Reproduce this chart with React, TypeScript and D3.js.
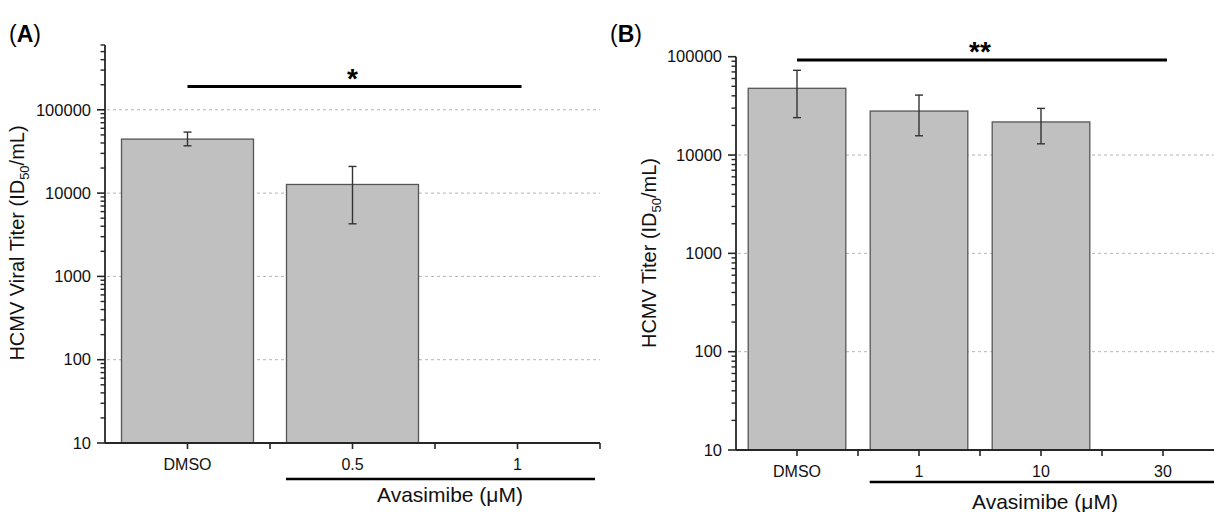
import React from "react"
import * as d3 from "d3"

// panel A data
const catsA = ["DMSO", "0.5", "1"]
const meanA = [44500, 12700, null]
const errHiA = [54000, 20900, null]
const errLoA = [37000, 4280, null]

// panel B data
const catsB = ["DMSO", "1", "10", "30"]
const meanB = [47700, 28000, 21700, null]
const errHiB = [72700, 40700, 29800, null]
const errLoB = [24000, 15700, 13000, null]

const majorTicks = [10, 100, 1000, 10000, 100000]

const font = "'Liberation Sans', Arial, sans-serif"
const axisColor = "#262626"

type PanelProps = {
    label: string
    labelX: number
    cats: string[]
    mean: (number | null)[]
    hi: (number | null)[]
    lo: (number | null)[]
    xRange: [number, number]
    yDomain: [number, number]
    yRange: [number, number]
    yTitle: string
    yTitleX: number
    yTitleY: number
    stars: string
    sigY: number
    treatY: number
    treatLabelX: number
    treatLabelY: number
    treatEnd: number
    gridTop: boolean
}

const Panel = (p: PanelProps) => {
    const x = d3
        .scaleBand()
        .domain(p.cats)
        .range(p.xRange)
        .paddingInner(0.2)
        .paddingOuter(0.1)
    const y = d3.scaleLog().domain(p.yDomain).range(p.yRange)
    const x0 = p.xRange[0]
    const y0 = p.yRange[0]
    const step = x.step()

    // minor log ticks 2..9 in each decade
    const minor: number[] = []
    majorTicks.forEach((m) => {
        for (let k = 2; k <= 9; k++) {
            const v = m * k
            if (v <= p.yDomain[1] * 1.0001) minor.push(v)
        }
    })

    const grid = majorTicks.filter(
        (t) => t > p.yDomain[0] && (p.gridTop || t < p.yDomain[1]),
    )

    const boundaries = p.cats.map((c) => (x(c) as number) - step * 0.1 + step)
    const center = (c: string) => (x(c) as number) + x.bandwidth() / 2
    const last = p.cats[p.cats.length - 1]

    return (
        <g fontFamily={font}>
            <text x={p.labelX} y={42} fontSize={23} fill="#000">
                (<tspan fontWeight="bold">{p.label}</tspan>)
            </text>

            {grid.map((t) => (
                <line
                    key={"g" + t}
                    x1={x0 + 2}
                    x2={p.xRange[1]}
                    y1={y(t)}
                    y2={y(t)}
                    stroke="#b4b4b4"
                    strokeDasharray="3,3"
                    strokeWidth={1}
                />
            ))}

            {p.cats.map((c, i) => {
                const v = p.mean[i]
                if (v == null) return null
                return (
                    <rect
                        key={"b" + c}
                        x={x(c)}
                        y={y(v)}
                        width={x.bandwidth()}
                        height={y0 - y(v)}
                        fill="#c0c0c0"
                        stroke="#555"
                        strokeWidth={1.3}
                    />
                )
            })}

            {p.cats.map((c, i) => {
                const hi = p.hi[i]
                const lo = p.lo[i]
                if (hi == null || lo == null) return null
                const cx = center(c)
                return (
                    <g key={"e" + c} stroke="#333" strokeWidth={1.4}>
                        <line x1={cx} x2={cx} y1={y(hi)} y2={y(lo)} />
                        <line x1={cx - 4} x2={cx + 4} y1={y(hi)} y2={y(hi)} />
                        <line x1={cx - 4} x2={cx + 4} y1={y(lo)} y2={y(lo)} />
                    </g>
                )
            })}

            {/* y axis */}
            <line
                x1={x0}
                x2={x0}
                y1={y0}
                y2={p.yRange[1]}
                stroke={axisColor}
                strokeWidth={1.8}
            />
            {minor.map((v) => (
                <line
                    key={"m" + v}
                    x1={x0 - 4.5}
                    x2={x0}
                    y1={y(v)}
                    y2={y(v)}
                    stroke={axisColor}
                    strokeWidth={1.4}
                />
            ))}
            {majorTicks
                .filter((t) => t <= p.yDomain[1])
                .map((t) => (
                    <g key={"t" + t}>
                        <line
                            x1={x0 - 8}
                            x2={x0}
                            y1={y(t)}
                            y2={y(t)}
                            stroke={axisColor}
                            strokeWidth={1.6}
                        />
                        <text
                            x={x0 - 14}
                            y={y(t)}
                            dy="0.35em"
                            textAnchor="end"
                            fontSize={16.5}
                            fill="#111"
                        >
                            {t}
                        </text>
                    </g>
                ))}

            {/* x axis */}
            <line
                x1={x0}
                x2={p.xRange[1]}
                y1={y0}
                y2={y0}
                stroke={axisColor}
                strokeWidth={1.8}
            />
            {p.cats.map((c) => (
                <g key={"x" + c}>
                    <line
                        x1={center(c)}
                        x2={center(c)}
                        y1={y0}
                        y2={y0 + 6}
                        stroke={axisColor}
                        strokeWidth={1.6}
                    />
                    <text
                        x={center(c)}
                        y={y0 + 27}
                        textAnchor="middle"
                        fontSize={16}
                        fill="#111"
                    >
                        {c}
                    </text>
                </g>
            ))}
            {boundaries.map((b, i) => (
                <line
                    key={"bd" + i}
                    x1={b}
                    x2={b}
                    y1={y0}
                    y2={y0 + 6}
                    stroke={axisColor}
                    strokeWidth={1.6}
                />
            ))}

            {/* treatment bracket */}
            <line
                x1={(x(p.cats[1]) as number) - 0.5}
                x2={p.treatEnd}
                y1={p.treatY}
                y2={p.treatY}
                stroke="#000"
                strokeWidth={2.4}
            />
            <text
                x={p.treatLabelX}
                y={p.treatLabelY}
                textAnchor="middle"
                fontSize={21}
                fill="#111"
            >
                Avasimibe (μM)
            </text>

            {/* significance */}
            <line
                x1={center(p.cats[0])}
                x2={center(last) + 4}
                y1={p.sigY}
                y2={p.sigY}
                stroke="#000"
                strokeWidth={2.8}
            />
            <text
                x={(center(p.cats[0]) + center(last)) / 2}
                y={p.sigY + 1}
                textAnchor="middle"
                fontSize={28}
                fontWeight="bold"
                fill="#000"
            >
                {p.stars}
            </text>

            <text
                transform={`translate(${p.yTitleX},${p.yTitleY}) rotate(-90)`}
                textAnchor="middle"
                fontSize={20}
                fill="#111"
            >
                {p.yTitle} (ID
                <tspan fontSize={13} dy={5}>
                    50
                </tspan>
                <tspan dy={-5}>/mL)</tspan>
            </text>
        </g>
    )
}

export default function App() {
    return (
        <svg
            width={1214}
            height={512}
            style={{ position: "absolute", left: 0, top: 0, background: "#fff" }}
        >
            <Panel
                label="A"
                labelX={9}
                cats={catsA}
                mean={meanA}
                hi={errHiA}
                lo={errLoA}
                xRange={[105, 600]}
                yDomain={[10, 600000]}
                yRange={[443, 45]}
                yTitle="HCMV Viral Titer"
                yTitleX={24}
                yTitleY={243}
                stars="*"
                sigY={86.5}
                treatY={479}
                treatLabelX={450}
                treatLabelY={502}
                treatEnd={595}
                gridTop={true}
            />
            <Panel
                label="B"
                labelX={610}
                cats={catsB}
                mean={meanB}
                hi={errHiB}
                lo={errLoB}
                xRange={[736, 1224]}
                yDomain={[10, 100000]}
                yRange={[450, 56.7]}
                yTitle="HCMV Titer"
                yTitleX={656}
                yTitleY={253}
                stars="**"
                sigY={60}
                treatY={482}
                treatLabelX={1045}
                treatLabelY={509}
                treatEnd={1214}
                gridTop={false}
            />
        </svg>
    )
}
